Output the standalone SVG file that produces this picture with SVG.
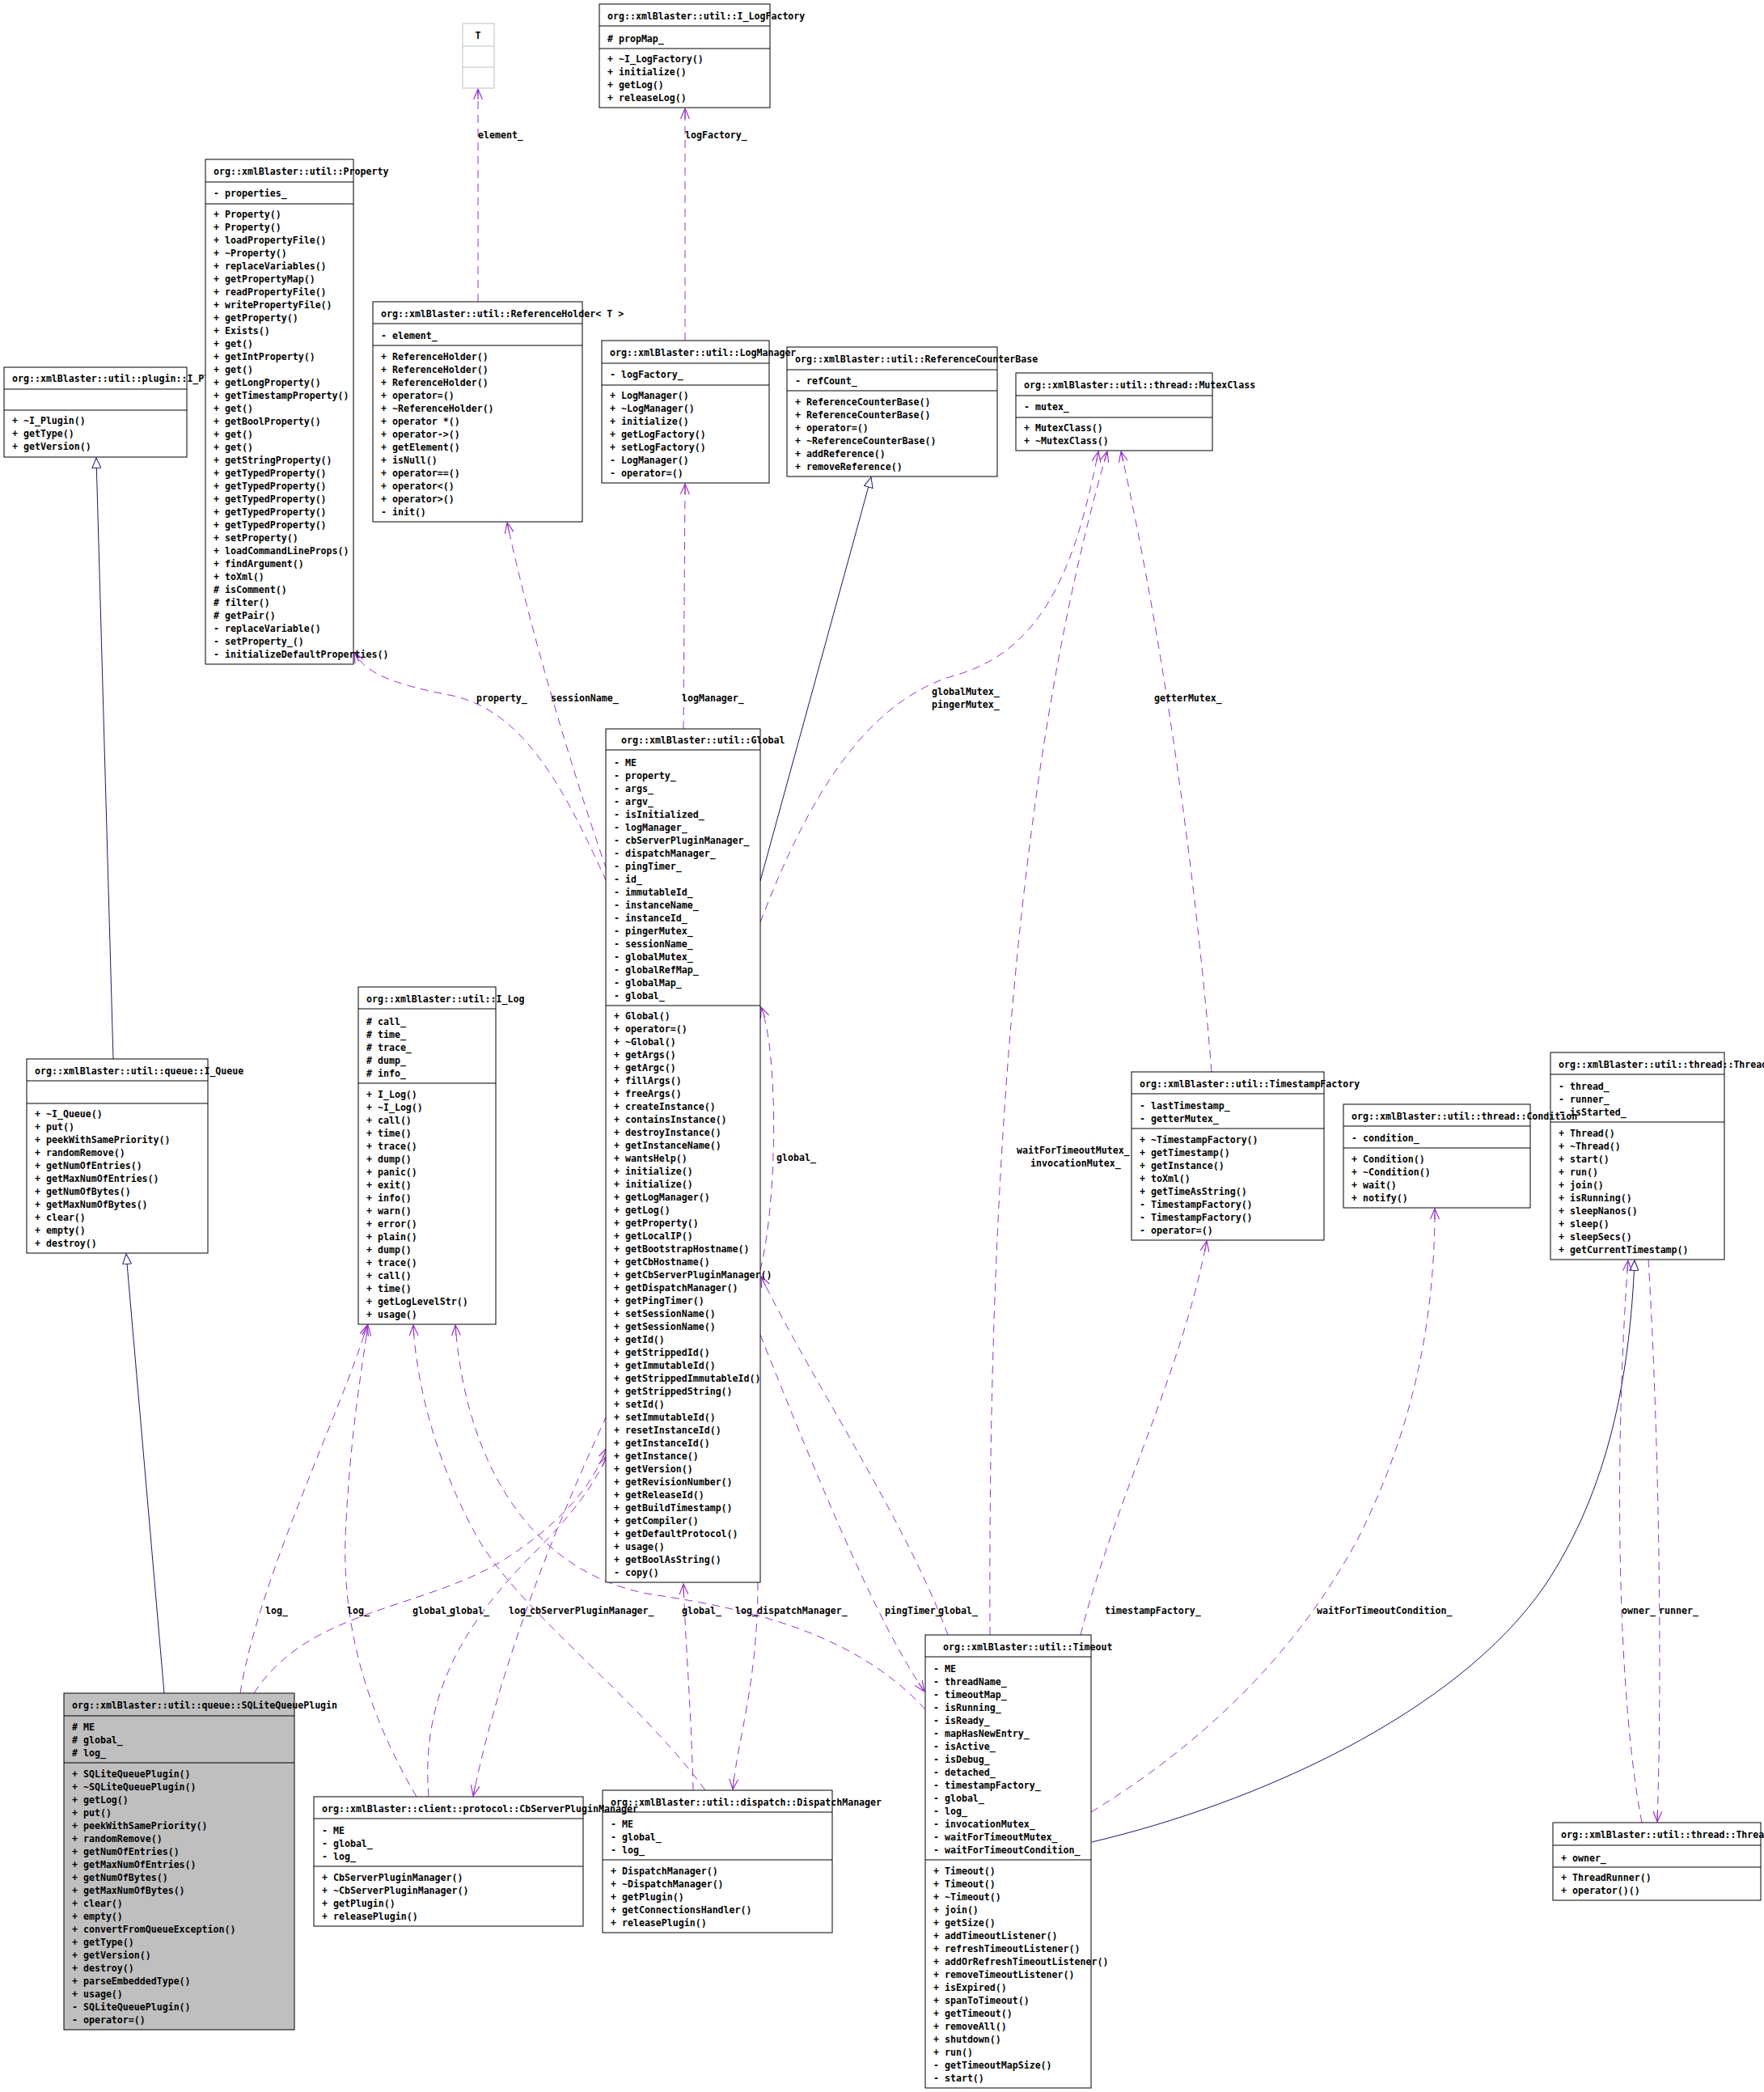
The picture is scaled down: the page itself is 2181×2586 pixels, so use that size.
<svg xmlns="http://www.w3.org/2000/svg" width="2181" height="2586" viewBox="0 0 2181 2586">
<style>
.bg{fill:#ffffff}
.box{fill:#ffffff;stroke:#000000;stroke-width:1}
.sel{fill:#bfbfbf;stroke:#000000;stroke-width:1}
.gbox{fill:#ffffff;stroke:#bfbfbf;stroke-width:1}
.sep{stroke:#000000;stroke-width:1}
.gsep{stroke:#bfbfbf;stroke-width:1}
text{font-family:"DejaVu Sans Mono","Liberation Mono",monospace;font-size:11.6px;font-weight:bold;fill:#000000}
.e{fill:none;stroke:#9a32cd;stroke-width:1;stroke-dasharray:10,7;marker-end:url(#va)}
.i{fill:none;stroke:#191970;stroke-width:1;marker-end:url(#tri)}
</style>
<defs>
<marker id="va" viewBox="0 0 14 12" refX="13" refY="6" markerWidth="14" markerHeight="12" markerUnits="userSpaceOnUse" orient="auto">
<path d="M0,0.5 L13,6 L0,11.5 M0,6 L13,6" fill="none" stroke="#9a32cd" stroke-width="1.2"/>
</marker>
<marker id="tri" viewBox="0 0 14 12" refX="13" refY="6" markerWidth="14" markerHeight="12" markerUnits="userSpaceOnUse" orient="auto">
<path d="M0.5,0.5 L13,6 L0.5,11.5 Z" fill="#ffffff" stroke="#191970" stroke-width="1"/>
</marker>
</defs>
<rect class="bg" x="0" y="0" width="2181" height="2586"/>

<g id="edges">
<path class="e" d="M591,373 L591,110"/>
<text x="591" y="171">element_</text>
<path class="e" d="M847,421 L847,134"/>
<text x="847" y="171">logFactory_</text>
<path class="e" d="M845,901 L847,598"/>
<text x="843" y="867">logManager_</text>
<path class="e" d="M750,1075 C720,990 660,800 627,646"/>
<text x="681" y="867">sessionName_</text>
<path class="e" d="M750,1090 C700,980 650,880 560,860 C480,845 450,830 438,806"/>
<text x="589" y="867">property_</text>
<path class="i" d="M940,1089 L1077,590"/>
<path class="e" d="M940,1140 C990,1010 1060,870 1180,835 C1290,805 1330,700 1358,558"/>
<text x="1152" y="859">globalMutex_</text>
<text x="1152" y="875">pingerMutex_</text>
<path class="e" d="M1224,2021 C1222,1600 1240,1000 1369,558"/>
<text x="1257" y="1426">waitForTimeoutMutex_</text>
<text x="1274" y="1442">invocationMutex_</text>
<path class="e" d="M1498,1325 C1480,1100 1440,800 1386,558"/>
<text x="1427" y="867">getterMutex_</text>
<path class="i" d="M140,1309 L119,566"/>
<path class="i" d="M203,2093 L156,1550"/>
<path class="e" d="M940,1570 C962,1480 962,1300 941,1245"/>
<text x="960" y="1435">global_</text>
<path class="e" d="M1172,2021 C1120,1880 1000,1700 941,1578"/>
<text x="1160" y="1995">global_</text>
<path class="e" d="M940,1650 C1000,1800 1080,2000 1143,2091"/>
<text x="1094" y="1995">pingTimer_</text>
<path class="e" d="M1144,2113 C1050,2010 900,1985 800,1970 C650,1940 575,1800 563,1638"/>
<text x="909" y="1995">log_</text>
<path class="e" d="M857,2213 C855,2120 848,2040 845,1958"/>
<text x="843" y="1995">global_</text>
<path class="e" d="M872,2213 C790,2100 640,1990 590,1900 C545,1820 515,1720 511,1638"/>
<text x="629" y="1995">log_</text>
<path class="e" d="M937,1956 C937,2080 912,2150 906,2212"/>
<text x="936" y="1995">dispatchManager_</text>
<path class="e" d="M750,1750 C690,1880 620,2050 585,2220"/>
<text x="655" y="1995">cbServerPluginManager_</text>
<path class="e" d="M314,2093 C380,1990 520,1990 620,1930 C700,1880 735,1830 750,1790"/>
<text x="510" y="1995">global_</text>
<path class="e" d="M530,2221 C520,2100 570,2010 660,1920 C710,1870 738,1830 750,1800"/>
<text x="556" y="1995">global_</text>
<path class="e" d="M297,2093 C320,1950 420,1750 454,1638"/>
<text x="328" y="1995">log_</text>
<path class="e" d="M515,2221 C450,2110 420,2000 428,1880 C434,1770 446,1700 455,1638"/>
<text x="429" y="1995">log_</text>
<path class="e" d="M1336,2021 C1380,1850 1460,1700 1492,1534"/>
<text x="1366" y="1995">timestampFactory_</text>
<path class="e" d="M1349,2240 C1480,2160 1600,2050 1680,1900 C1740,1780 1774,1650 1774,1494"/>
<text x="1628" y="1995">waitForTimeoutCondition_</text>
<path class="i" d="M1350,2277 C1550,2230 1800,2120 1910,1960 C1990,1840 2015,1700 2021,1558"/>
<path class="e" d="M2030,2253 C2000,2100 1995,1800 2013,1558"/>
<text x="2005" y="1995">owner_</text>
<path class="e" d="M2038,1557 C2050,1750 2056,2050 2049,2252"/>
<text x="2051" y="1995">runner_</text>
</g>

<g id="node-T">
<rect class="gbox" x="572" y="29" width="39" height="80"/>
<line class="gsep" x1="572" y1="57" x2="611" y2="57"/>
<line class="gsep" x1="572" y1="83" x2="611" y2="83"/>
<text x="591" y="48" text-anchor="middle">T</text>
</g>

<g id="node-I_LogFactory">
<rect class="box" x="741" y="5" width="211" height="128"/>
<line class="sep" x1="741" y1="32" x2="952" y2="32"/>
<line class="sep" x1="741" y1="60" x2="952" y2="60"/>
<text x="751" y="24">org::xmlBlaster::util::I_LogFactory</text>
<text x="751" y="52"># propMap_</text>
<text x="751" y="77"><tspan x="751" dy="0">+ ~I_LogFactory()</tspan><tspan x="751" dy="16">+ initialize()</tspan><tspan x="751" dy="16">+ getLog()</tspan><tspan x="751" dy="16">+ releaseLog()</tspan></text>
</g>

<g id="node-I_Plugin">
<rect class="box" x="5" y="454" width="226" height="111"/>
<line class="sep" x1="5" y1="481" x2="231" y2="481"/>
<line class="sep" x1="5" y1="507" x2="231" y2="507"/>
<text x="15" y="472">org::xmlBlaster::util::plugin::I_Plugin</text>
<text x="15" y="524"><tspan x="15" dy="0">+ ~I_Plugin()</tspan><tspan x="15" dy="16">+ getType()</tspan><tspan x="15" dy="16">+ getVersion()</tspan></text>
</g>

<g id="node-Property">
<rect class="box" x="254" y="197" width="183" height="624"/>
<line class="sep" x1="254" y1="225" x2="437" y2="225"/>
<line class="sep" x1="254" y1="252" x2="437" y2="252"/>
<text x="264" y="216">org::xmlBlaster::util::Property</text>
<text x="264" y="243">- properties_</text>
<text x="264" y="269"><tspan x="264" dy="0">+ Property()</tspan><tspan x="264" dy="16">+ Property()</tspan><tspan x="264" dy="16">+ loadPropertyFile()</tspan><tspan x="264" dy="16">+ ~Property()</tspan><tspan x="264" dy="16">+ replaceVariables()</tspan><tspan x="264" dy="16">+ getPropertyMap()</tspan><tspan x="264" dy="16">+ readPropertyFile()</tspan><tspan x="264" dy="16">+ writePropertyFile()</tspan><tspan x="264" dy="16">+ getProperty()</tspan><tspan x="264" dy="16">+ Exists()</tspan><tspan x="264" dy="16">+ get()</tspan><tspan x="264" dy="16">+ getIntProperty()</tspan><tspan x="264" dy="16">+ get()</tspan><tspan x="264" dy="16">+ getLongProperty()</tspan><tspan x="264" dy="16">+ getTimestampProperty()</tspan><tspan x="264" dy="16">+ get()</tspan><tspan x="264" dy="16">+ getBoolProperty()</tspan><tspan x="264" dy="16">+ get()</tspan><tspan x="264" dy="16">+ get()</tspan><tspan x="264" dy="16">+ getStringProperty()</tspan><tspan x="264" dy="16">+ getTypedProperty()</tspan><tspan x="264" dy="16">+ getTypedProperty()</tspan><tspan x="264" dy="16">+ getTypedProperty()</tspan><tspan x="264" dy="16">+ getTypedProperty()</tspan><tspan x="264" dy="16">+ getTypedProperty()</tspan><tspan x="264" dy="16">+ setProperty()</tspan><tspan x="264" dy="16">+ loadCommandLineProps()</tspan><tspan x="264" dy="16">+ findArgument()</tspan><tspan x="264" dy="16">+ toXml()</tspan><tspan x="264" dy="16"># isComment()</tspan><tspan x="264" dy="16"># filter()</tspan><tspan x="264" dy="16"># getPair()</tspan><tspan x="264" dy="16">- replaceVariable()</tspan><tspan x="264" dy="16">- setProperty_()</tspan><tspan x="264" dy="16">- initializeDefaultProperties()</tspan></text>
</g>

<g id="node-ReferenceHolder">
<rect class="box" x="461" y="373" width="259" height="272"/>
<line class="sep" x1="461" y1="400" x2="720" y2="400"/>
<line class="sep" x1="461" y1="427" x2="720" y2="427"/>
<text x="471" y="392">org::xmlBlaster::util::ReferenceHolder&lt; T &gt;</text>
<text x="471" y="419">- element_</text>
<text x="471" y="445"><tspan x="471" dy="0">+ ReferenceHolder()</tspan><tspan x="471" dy="16">+ ReferenceHolder()</tspan><tspan x="471" dy="16">+ ReferenceHolder()</tspan><tspan x="471" dy="16">+ operator=()</tspan><tspan x="471" dy="16">+ ~ReferenceHolder()</tspan><tspan x="471" dy="16">+ operator *()</tspan><tspan x="471" dy="16">+ operator-&gt;()</tspan><tspan x="471" dy="16">+ getElement()</tspan><tspan x="471" dy="16">+ isNull()</tspan><tspan x="471" dy="16">+ operator==()</tspan><tspan x="471" dy="16">+ operator&lt;()</tspan><tspan x="471" dy="16">+ operator&gt;()</tspan><tspan x="471" dy="16">- init()</tspan></text>
</g>

<g id="node-ReferenceCounterBase">
<rect class="box" x="973" y="429" width="260" height="160"/>
<line class="sep" x1="973" y1="457" x2="1233" y2="457"/>
<line class="sep" x1="973" y1="483" x2="1233" y2="483"/>
<text x="983" y="448">org::xmlBlaster::util::ReferenceCounterBase</text>
<text x="983" y="475">- refCount_</text>
<text x="983" y="501"><tspan x="983" dy="0">+ ReferenceCounterBase()</tspan><tspan x="983" dy="16">+ ReferenceCounterBase()</tspan><tspan x="983" dy="16">+ operator=()</tspan><tspan x="983" dy="16">+ ~ReferenceCounterBase()</tspan><tspan x="983" dy="16">+ addReference()</tspan><tspan x="983" dy="16">+ removeReference()</tspan></text>
</g>

<g id="node-LogManager">
<rect class="box" x="744" y="421" width="207" height="176"/>
<line class="sep" x1="744" y1="449" x2="951" y2="449"/>
<line class="sep" x1="744" y1="476" x2="951" y2="476"/>
<text x="754" y="440">org::xmlBlaster::util::LogManager</text>
<text x="754" y="467">- logFactory_</text>
<text x="754" y="493"><tspan x="754" dy="0">+ LogManager()</tspan><tspan x="754" dy="16">+ ~LogManager()</tspan><tspan x="754" dy="16">+ initialize()</tspan><tspan x="754" dy="16">+ getLogFactory()</tspan><tspan x="754" dy="16">+ setLogFactory()</tspan><tspan x="754" dy="16">- LogManager()</tspan><tspan x="754" dy="16">- operator=()</tspan></text>
</g>

<g id="node-MutexClass">
<rect class="box" x="1256" y="461" width="243" height="96"/>
<line class="sep" x1="1256" y1="489" x2="1499" y2="489"/>
<line class="sep" x1="1256" y1="516" x2="1499" y2="516"/>
<text x="1266" y="480">org::xmlBlaster::util::thread::MutexClass</text>
<text x="1266" y="507">- mutex_</text>
<text x="1266" y="533"><tspan x="1266" dy="0">+ MutexClass()</tspan><tspan x="1266" dy="16">+ ~MutexClass()</tspan></text>
</g>

<g id="node-I_Queue">
<rect class="box" x="33" y="1309" width="224" height="240"/>
<line class="sep" x1="33" y1="1336" x2="257" y2="1336"/>
<line class="sep" x1="33" y1="1364" x2="257" y2="1364"/>
<text x="43" y="1328">org::xmlBlaster::util::queue::I_Queue</text>
<text x="43" y="1381"><tspan x="43" dy="0">+ ~I_Queue()</tspan><tspan x="43" dy="16">+ put()</tspan><tspan x="43" dy="16">+ peekWithSamePriority()</tspan><tspan x="43" dy="16">+ randomRemove()</tspan><tspan x="43" dy="16">+ getNumOfEntries()</tspan><tspan x="43" dy="16">+ getMaxNumOfEntries()</tspan><tspan x="43" dy="16">+ getNumOfBytes()</tspan><tspan x="43" dy="16">+ getMaxNumOfBytes()</tspan><tspan x="43" dy="16">+ clear()</tspan><tspan x="43" dy="16">+ empty()</tspan><tspan x="43" dy="16">+ destroy()</tspan></text>
</g>

<g id="node-Global">
<rect class="box" x="749" y="901" width="191" height="1055"/>
<line class="sep" x1="749" y1="927" x2="940" y2="927"/>
<line class="sep" x1="749" y1="1243" x2="940" y2="1243"/>
<text x="768" y="919">org::xmlBlaster::util::Global</text>
<text x="759" y="947"><tspan x="759" dy="0">- ME</tspan><tspan x="759" dy="16">- property_</tspan><tspan x="759" dy="16">- args_</tspan><tspan x="759" dy="16">- argv_</tspan><tspan x="759" dy="16">- isInitialized_</tspan><tspan x="759" dy="16">- logManager_</tspan><tspan x="759" dy="16">- cbServerPluginManager_</tspan><tspan x="759" dy="16">- dispatchManager_</tspan><tspan x="759" dy="16">- pingTimer_</tspan><tspan x="759" dy="16">- id_</tspan><tspan x="759" dy="16">- immutableId_</tspan><tspan x="759" dy="16">- instanceName_</tspan><tspan x="759" dy="16">- instanceId_</tspan><tspan x="759" dy="16">- pingerMutex_</tspan><tspan x="759" dy="16">- sessionName_</tspan><tspan x="759" dy="16">- globalMutex_</tspan><tspan x="759" dy="16">- globalRefMap_</tspan><tspan x="759" dy="16">- globalMap_</tspan><tspan x="759" dy="16">- global_</tspan></text>
<text x="759" y="1260"><tspan x="759" dy="0">+ Global()</tspan><tspan x="759" dy="16">+ operator=()</tspan><tspan x="759" dy="16">+ ~Global()</tspan><tspan x="759" dy="16">+ getArgs()</tspan><tspan x="759" dy="16">+ getArgc()</tspan><tspan x="759" dy="16">+ fillArgs()</tspan><tspan x="759" dy="16">+ freeArgs()</tspan><tspan x="759" dy="16">+ createInstance()</tspan><tspan x="759" dy="16">+ containsInstance()</tspan><tspan x="759" dy="16">+ destroyInstance()</tspan><tspan x="759" dy="16">+ getInstanceName()</tspan><tspan x="759" dy="16">+ wantsHelp()</tspan><tspan x="759" dy="16">+ initialize()</tspan><tspan x="759" dy="16">+ initialize()</tspan><tspan x="759" dy="16">+ getLogManager()</tspan><tspan x="759" dy="16">+ getLog()</tspan><tspan x="759" dy="16">+ getProperty()</tspan><tspan x="759" dy="16">+ getLocalIP()</tspan><tspan x="759" dy="16">+ getBootstrapHostname()</tspan><tspan x="759" dy="16">+ getCbHostname()</tspan><tspan x="759" dy="16">+ getCbServerPluginManager()</tspan><tspan x="759" dy="16">+ getDispatchManager()</tspan><tspan x="759" dy="16">+ getPingTimer()</tspan><tspan x="759" dy="16">+ setSessionName()</tspan><tspan x="759" dy="16">+ getSessionName()</tspan><tspan x="759" dy="16">+ getId()</tspan><tspan x="759" dy="16">+ getStrippedId()</tspan><tspan x="759" dy="16">+ getImmutableId()</tspan><tspan x="759" dy="16">+ getStrippedImmutableId()</tspan><tspan x="759" dy="16">+ getStrippedString()</tspan><tspan x="759" dy="16">+ setId()</tspan><tspan x="759" dy="16">+ setImmutableId()</tspan><tspan x="759" dy="16">+ resetInstanceId()</tspan><tspan x="759" dy="16">+ getInstanceId()</tspan><tspan x="759" dy="16">+ getInstance()</tspan><tspan x="759" dy="16">+ getVersion()</tspan><tspan x="759" dy="16">+ getRevisionNumber()</tspan><tspan x="759" dy="16">+ getReleaseId()</tspan><tspan x="759" dy="16">+ getBuildTimestamp()</tspan><tspan x="759" dy="16">+ getCompiler()</tspan><tspan x="759" dy="16">+ getDefaultProtocol()</tspan><tspan x="759" dy="16">+ usage()</tspan><tspan x="759" dy="16">+ getBoolAsString()</tspan><tspan x="759" dy="16">- copy()</tspan></text>
</g>

<g id="node-I_Log">
<rect class="box" x="443" y="1220" width="170" height="417"/>
<line class="sep" x1="443" y1="1247" x2="613" y2="1247"/>
<line class="sep" x1="443" y1="1339" x2="613" y2="1339"/>
<text x="453" y="1239">org::xmlBlaster::util::I_Log</text>
<text x="453" y="1267"><tspan x="453" dy="0"># call_</tspan><tspan x="453" dy="16"># time_</tspan><tspan x="453" dy="16"># trace_</tspan><tspan x="453" dy="16"># dump_</tspan><tspan x="453" dy="16"># info_</tspan></text>
<text x="453" y="1357"><tspan x="453" dy="0">+ I_Log()</tspan><tspan x="453" dy="16">+ ~I_Log()</tspan><tspan x="453" dy="16">+ call()</tspan><tspan x="453" dy="16">+ time()</tspan><tspan x="453" dy="16">+ trace()</tspan><tspan x="453" dy="16">+ dump()</tspan><tspan x="453" dy="16">+ panic()</tspan><tspan x="453" dy="16">+ exit()</tspan><tspan x="453" dy="16">+ info()</tspan><tspan x="453" dy="16">+ warn()</tspan><tspan x="453" dy="16">+ error()</tspan><tspan x="453" dy="16">+ plain()</tspan><tspan x="453" dy="16">+ dump()</tspan><tspan x="453" dy="16">+ trace()</tspan><tspan x="453" dy="16">+ call()</tspan><tspan x="453" dy="16">+ time()</tspan><tspan x="453" dy="16">+ getLogLevelStr()</tspan><tspan x="453" dy="16">+ usage()</tspan></text>
</g>

<g id="node-TimestampFactory">
<rect class="box" x="1399" y="1325" width="238" height="208"/>
<line class="sep" x1="1399" y1="1352" x2="1637" y2="1352"/>
<line class="sep" x1="1399" y1="1395" x2="1637" y2="1395"/>
<text x="1409" y="1344">org::xmlBlaster::util::TimestampFactory</text>
<text x="1409" y="1371"><tspan x="1409" dy="0">- lastTimestamp_</tspan><tspan x="1409" dy="16">- getterMutex_</tspan></text>
<text x="1409" y="1413"><tspan x="1409" dy="0">+ ~TimestampFactory()</tspan><tspan x="1409" dy="16">+ getTimestamp()</tspan><tspan x="1409" dy="16">+ getInstance()</tspan><tspan x="1409" dy="16">+ toXml()</tspan><tspan x="1409" dy="16">+ getTimeAsString()</tspan><tspan x="1409" dy="16">- TimestampFactory()</tspan><tspan x="1409" dy="16">- TimestampFactory()</tspan><tspan x="1409" dy="16">- operator=()</tspan></text>
</g>

<g id="node-Thread">
<rect class="box" x="1917" y="1301" width="215" height="256"/>
<line class="sep" x1="1917" y1="1328" x2="2132" y2="1328"/>
<line class="sep" x1="1917" y1="1387" x2="2132" y2="1387"/>
<text x="1927" y="1320">org::xmlBlaster::util::thread::Thread</text>
<text x="1927" y="1347"><tspan x="1927" dy="0">- thread_</tspan><tspan x="1927" dy="16">- runner_</tspan><tspan x="1927" dy="16">- isStarted_</tspan></text>
<text x="1927" y="1405"><tspan x="1927" dy="0">+ Thread()</tspan><tspan x="1927" dy="16">+ ~Thread()</tspan><tspan x="1927" dy="16">+ start()</tspan><tspan x="1927" dy="16">+ run()</tspan><tspan x="1927" dy="16">+ join()</tspan><tspan x="1927" dy="16">+ isRunning()</tspan><tspan x="1927" dy="16">+ sleepNanos()</tspan><tspan x="1927" dy="16">+ sleep()</tspan><tspan x="1927" dy="16">+ sleepSecs()</tspan><tspan x="1927" dy="16">+ getCurrentTimestamp()</tspan></text>
</g>

<g id="node-Condition">
<rect class="box" x="1661" y="1365" width="231" height="128"/>
<line class="sep" x1="1661" y1="1392" x2="1892" y2="1392"/>
<line class="sep" x1="1661" y1="1419" x2="1892" y2="1419"/>
<text x="1671" y="1384">org::xmlBlaster::util::thread::Condition</text>
<text x="1671" y="1411">- condition_</text>
<text x="1671" y="1437"><tspan x="1671" dy="0">+ Condition()</tspan><tspan x="1671" dy="16">+ ~Condition()</tspan><tspan x="1671" dy="16">+ wait()</tspan><tspan x="1671" dy="16">+ notify()</tspan></text>
</g>

<g id="node-SQLiteQueuePlugin">
<rect class="sel" x="79" y="2093" width="285" height="416"/>
<line class="sep" x1="79" y1="2121" x2="364" y2="2121"/>
<line class="sep" x1="79" y1="2179" x2="364" y2="2179"/>
<text x="89" y="2112">org::xmlBlaster::util::queue::SQLiteQueuePlugin</text>
<text x="89" y="2139"><tspan x="89" dy="0"># ME</tspan><tspan x="89" dy="16"># global_</tspan><tspan x="89" dy="16"># log_</tspan></text>
<text x="89" y="2197"><tspan x="89" dy="0">+ SQLiteQueuePlugin()</tspan><tspan x="89" dy="16">+ ~SQLiteQueuePlugin()</tspan><tspan x="89" dy="16">+ getLog()</tspan><tspan x="89" dy="16">+ put()</tspan><tspan x="89" dy="16">+ peekWithSamePriority()</tspan><tspan x="89" dy="16">+ randomRemove()</tspan><tspan x="89" dy="16">+ getNumOfEntries()</tspan><tspan x="89" dy="16">+ getMaxNumOfEntries()</tspan><tspan x="89" dy="16">+ getNumOfBytes()</tspan><tspan x="89" dy="16">+ getMaxNumOfBytes()</tspan><tspan x="89" dy="16">+ clear()</tspan><tspan x="89" dy="16">+ empty()</tspan><tspan x="89" dy="16">+ convertFromQueueException()</tspan><tspan x="89" dy="16">+ getType()</tspan><tspan x="89" dy="16">+ getVersion()</tspan><tspan x="89" dy="16">+ destroy()</tspan><tspan x="89" dy="16">+ parseEmbeddedType()</tspan><tspan x="89" dy="16">+ usage()</tspan><tspan x="89" dy="16">- SQLiteQueuePlugin()</tspan><tspan x="89" dy="16">- operator=()</tspan></text>
</g>

<g id="node-DispatchManager">
<rect class="box" x="745" y="2213" width="284" height="176"/>
<line class="sep" x1="745" y1="2240" x2="1029" y2="2240"/>
<line class="sep" x1="745" y1="2299" x2="1029" y2="2299"/>
<text x="755" y="2232">org::xmlBlaster::util::dispatch::DispatchManager</text>
<text x="755" y="2259"><tspan x="755" dy="0">- ME</tspan><tspan x="755" dy="16">- global_</tspan><tspan x="755" dy="16">- log_</tspan></text>
<text x="755" y="2317"><tspan x="755" dy="0">+ DispatchManager()</tspan><tspan x="755" dy="16">+ ~DispatchManager()</tspan><tspan x="755" dy="16">+ getPlugin()</tspan><tspan x="755" dy="16">+ getConnectionsHandler()</tspan><tspan x="755" dy="16">+ releasePlugin()</tspan></text>
</g>

<g id="node-CbServerPluginManager">
<rect class="box" x="388" y="2221" width="333" height="160"/>
<line class="sep" x1="388" y1="2248" x2="721" y2="2248"/>
<line class="sep" x1="388" y1="2307" x2="721" y2="2307"/>
<text x="398" y="2240">org::xmlBlaster::client::protocol::CbServerPluginManager</text>
<text x="398" y="2267"><tspan x="398" dy="0">- ME</tspan><tspan x="398" dy="16">- global_</tspan><tspan x="398" dy="16">- log_</tspan></text>
<text x="398" y="2325"><tspan x="398" dy="0">+ CbServerPluginManager()</tspan><tspan x="398" dy="16">+ ~CbServerPluginManager()</tspan><tspan x="398" dy="16">+ getPlugin()</tspan><tspan x="398" dy="16">+ releasePlugin()</tspan></text>
</g>

<g id="node-Timeout">
<rect class="box" x="1144" y="2021" width="205" height="560"/>
<line class="sep" x1="1144" y1="2048" x2="1349" y2="2048"/>
<line class="sep" x1="1144" y1="2299" x2="1349" y2="2299"/>
<text x="1166" y="2040">org::xmlBlaster::util::Timeout</text>
<text x="1154" y="2067"><tspan x="1154" dy="0">- ME</tspan><tspan x="1154" dy="16">- threadName_</tspan><tspan x="1154" dy="16">- timeoutMap_</tspan><tspan x="1154" dy="16">- isRunning_</tspan><tspan x="1154" dy="16">- isReady_</tspan><tspan x="1154" dy="16">- mapHasNewEntry_</tspan><tspan x="1154" dy="16">- isActive_</tspan><tspan x="1154" dy="16">- isDebug_</tspan><tspan x="1154" dy="16">- detached_</tspan><tspan x="1154" dy="16">- timestampFactory_</tspan><tspan x="1154" dy="16">- global_</tspan><tspan x="1154" dy="16">- log_</tspan><tspan x="1154" dy="16">- invocationMutex_</tspan><tspan x="1154" dy="16">- waitForTimeoutMutex_</tspan><tspan x="1154" dy="16">- waitForTimeoutCondition_</tspan></text>
<text x="1154" y="2317"><tspan x="1154" dy="0">+ Timeout()</tspan><tspan x="1154" dy="16">+ Timeout()</tspan><tspan x="1154" dy="16">+ ~Timeout()</tspan><tspan x="1154" dy="16">+ join()</tspan><tspan x="1154" dy="16">+ getSize()</tspan><tspan x="1154" dy="16">+ addTimeoutListener()</tspan><tspan x="1154" dy="16">+ refreshTimeoutListener()</tspan><tspan x="1154" dy="16">+ addOrRefreshTimeoutListener()</tspan><tspan x="1154" dy="16">+ removeTimeoutListener()</tspan><tspan x="1154" dy="16">+ isExpired()</tspan><tspan x="1154" dy="16">+ spanToTimeout()</tspan><tspan x="1154" dy="16">+ getTimeout()</tspan><tspan x="1154" dy="16">+ removeAll()</tspan><tspan x="1154" dy="16">+ shutdown()</tspan><tspan x="1154" dy="16">+ run()</tspan><tspan x="1154" dy="16">- getTimeoutMapSize()</tspan><tspan x="1154" dy="16">- start()</tspan></text>
</g>

<g id="node-ThreadRunner">
<rect class="box" x="1920" y="2253" width="257" height="96"/>
<line class="sep" x1="1920" y1="2281" x2="2177" y2="2281"/>
<line class="sep" x1="1920" y1="2308" x2="2177" y2="2308"/>
<text x="1930" y="2272">org::xmlBlaster::util::thread::ThreadRunner</text>
<text x="1930" y="2301">+ owner_</text>
<text x="1930" y="2325"><tspan x="1930" dy="0">+ ThreadRunner()</tspan><tspan x="1930" dy="16">+ operator()()</tspan></text>
</g>
</svg>
